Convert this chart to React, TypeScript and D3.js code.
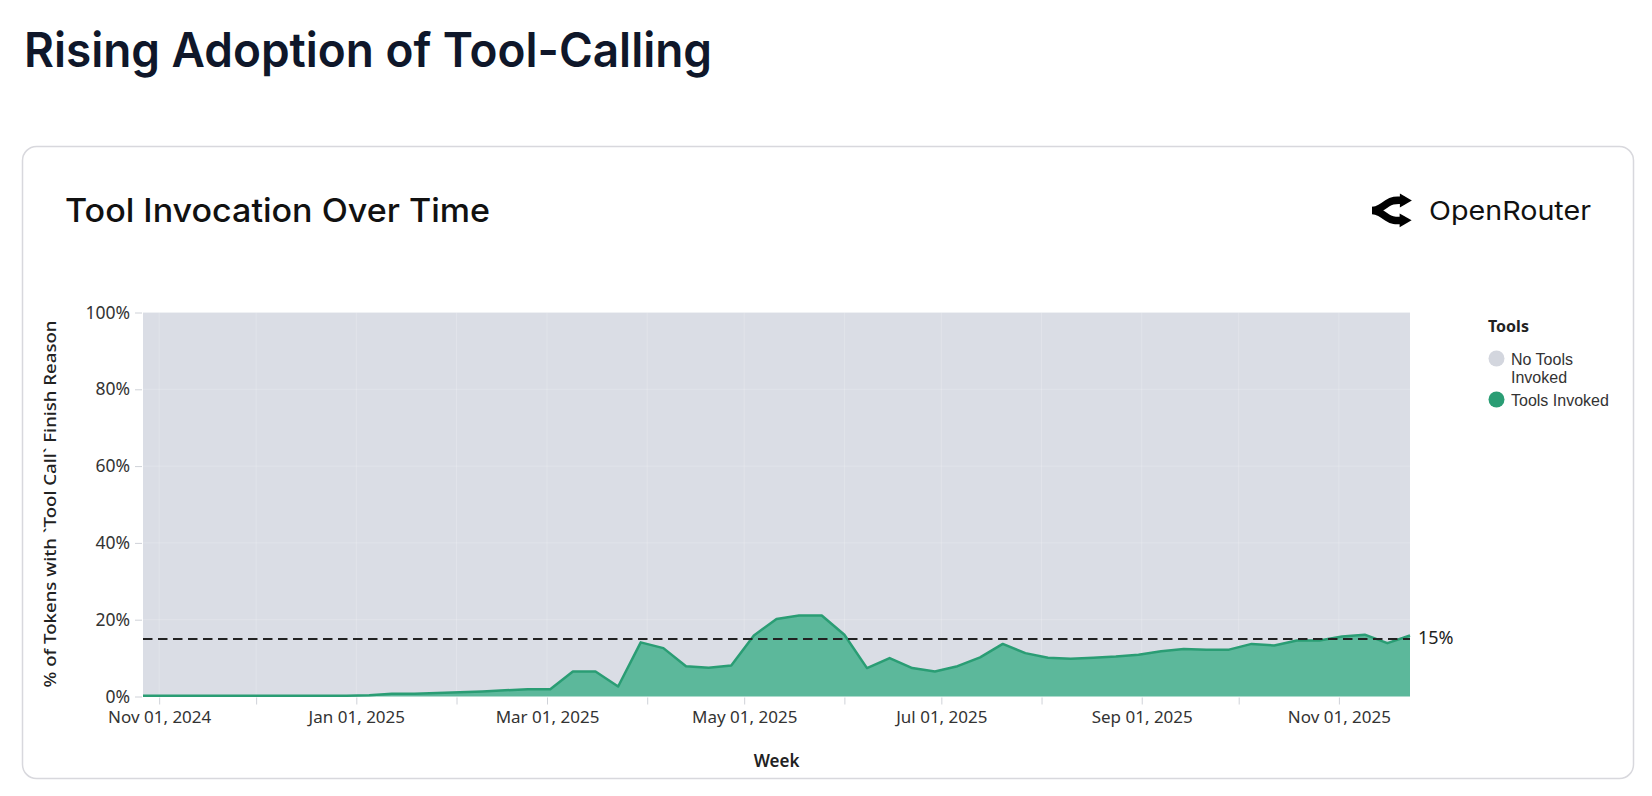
import React, { useEffect, useRef } from "react";
import * as d3 from "d3";

// weekly buckets (week starting Sunday), first week of the series
const firstWeek = "2024-10-27";
// % of tokens with `tool_call` finish reason, one value per week
const toolsInvoked = [
  0.2, 0.2, 0.2, 0.2, 0.2, 0.2, 0.2, 0.2, 0.2, 0.2,
  0.3, 0.7, 0.7, 0.9, 1.1, 1.3, 1.6, 1.9, 1.9, 6.5,
  6.5, 2.6, 14.1, 12.6, 7.9, 7.5, 8.1, 15.9, 20.2, 21.1,
  21.1, 16.1, 7.4, 10.0, 7.4, 6.5, 7.9, 10.2, 13.7, 11.3,
  10.1, 9.8, 10.1, 10.4, 10.9, 11.8, 12.4, 12.2, 12.2, 13.7,
  13.3, 14.6, 14.6, 15.6, 16.1, 13.9, 15.9,
];
const referenceLine = 15;
const yTicks = [0, 20, 40, 60, 80, 100];
const legendItems = [
  { label: ["No Tools", "Invoked"], color: "#d3d6de" },
  { label: ["Tools Invoked"], color: "#2a9d74" },
];

const GRAY = "#dadde5";
const GREEN_FILL = "#5cb89b";
const GREEN_LINE = "#2a9d74";
const LABEL_FONT = "'Noto Sans', 'Open Sans', sans-serif";
const LEGEND_FONT = "'Liberation Sans', Arial, sans-serif";
const HEAD_FONT = "Inter, 'Noto Sans', sans-serif";

export default function App() {
  const ref = useRef<SVGSVGElement>(null);

  useEffect(() => {
    const svg = d3.select(ref.current);
    svg.selectAll("*").remove();

    const start = new Date(firstWeek + "T00:00:00Z");
    const data = toolsInvoked.map((v, i) => ({ date: d3.utcWeek.offset(start, i), value: v }));

    const plot = { left: 143, right: 1410, top: 312.5, bottom: 696.5 };

    const x = d3.scaleUtc()
      .domain([data[0].date, data[data.length - 1].date])
      .range([plot.left, plot.right]);
    const y = d3.scaleLinear().domain([0, 100]).range([plot.bottom, plot.top]);

    // page title
    svg.append("text")
      .attr("x", 24).attr("y", 67)
      .attr("font-family", HEAD_FONT).attr("font-size", 48).attr("font-weight", 600)
      .attr("fill", "#0f172a")
      .attr("textLength", 688).attr("lengthAdjust", "spacingAndGlyphs")
      .text("Rising Adoption of Tool-Calling");

    // card
    svg.append("rect")
      .attr("x", 22.5).attr("y", 146.5).attr("width", 1611).attr("height", 632)
      .attr("rx", 14).attr("fill", "#fff").attr("stroke", "#d8d8dd").attr("stroke-width", 1.5);

    svg.append("text")
      .attr("x", 65).attr("y", 222)
      .attr("font-family", HEAD_FONT).attr("font-size", 33).attr("font-weight", 500)
      .attr("fill", "#111")
      .attr("textLength", 425).attr("lengthAdjust", "spacingAndGlyphs")
      .text("Tool Invocation Over Time");

    // OpenRouter logo
    const logo = svg.append("g").attr("transform", "translate(1372,191) scale(0.078)");
    logo.append("path")
      .attr("d", "M3 248.945C18 248.945 76 236 106 219C136 202 136 202 198 158C276.497 102.293 332 120.945 423 120.945")
      .attr("fill", "none").attr("stroke", "#000").attr("stroke-width", 95);
    logo.append("path").attr("d", "M511 121.5L357.25 210.268L357.25 32.7324L511 121.5Z").attr("fill", "#000");
    logo.append("path")
      .attr("d", "M0 249C15 249 73 261.945 103 278.945C133 295.945 133 295.945 195 339.945C273.497 395.652 329 376.999 420 376.999")
      .attr("fill", "none").attr("stroke", "#000").attr("stroke-width", 95);
    logo.append("path").attr("d", "M508 376.445L354.25 287.678L354.25 464.213L508 376.445Z").attr("fill", "#000");
    svg.append("text")
      .attr("x", 1429).attr("y", 219.5)
      .attr("font-family", HEAD_FONT).attr("font-size", 26)
      .attr("fill", "#111")
      .attr("textLength", 162).attr("lengthAdjust", "spacingAndGlyphs")
      .text("OpenRouter");

    // "no tools" area fills the rest up to 100%
    svg.append("path")
      .datum(data)
      .attr("d", d3.area<any>().x(d => x(d.date)).y0(d => y(d.value)).y1(y(100)))
      .attr("fill", GRAY);

    // faint grid
    const months = d3.utcMonth.range(d3.utcMonth.ceil(x.domain()[0]), x.domain()[1]);
    svg.append("g").selectAll("line").data(months).join("line")
      .attr("x1", d => x(d)).attr("x2", d => x(d))
      .attr("y1", plot.top).attr("y2", plot.bottom)
      .attr("stroke", "#fff").attr("stroke-opacity", 0.2);
    svg.append("g").selectAll("line").data(yTicks).join("line")
      .attr("x1", plot.left).attr("x2", plot.right)
      .attr("y1", d => y(d)).attr("y2", d => y(d))
      .attr("stroke", "#fff").attr("stroke-opacity", 0.2);

    // tools invoked area + line
    svg.append("path")
      .datum(data)
      .attr("d", d3.area<any>().x(d => x(d.date)).y0(y(0)).y1(d => y(d.value)))
      .attr("fill", GREEN_FILL);
    svg.append("path")
      .datum(data)
      .attr("d", d3.line<any>().x(d => x(d.date)).y(d => y(d.value)))
      .attr("fill", "none").attr("stroke", GREEN_LINE).attr("stroke-width", 2.5)
      .attr("stroke-linejoin", "round");

    // 15% reference line
    svg.append("line")
      .attr("x1", plot.left).attr("x2", plot.right)
      .attr("y1", y(referenceLine)).attr("y2", y(referenceLine))
      .attr("stroke", "#222").attr("stroke-width", 2).attr("stroke-dasharray", "9.5 5.5");
    svg.append("text")
      .attr("x", 1418).attr("y", y(referenceLine) + 5.5)
      .attr("font-family", LABEL_FONT).attr("font-size", 18).attr("fill", "#222")
      .text(`${referenceLine}%`);

    // y axis
    const yAxis = svg.append("g")
      .attr("transform", `translate(${plot.left - 1},0)`)
      .call(d3.axisLeft(y).tickValues(yTicks).tickSize(7).tickPadding(5).tickFormat(d => `${d}%`));
    yAxis.select(".domain").remove();
    yAxis.selectAll("line").attr("stroke", "#cfd2d8");
    yAxis.selectAll("text")
      .attr("font-family", LABEL_FONT).attr("font-size", 17.5).attr("fill", "#333");

    svg.append("text")
      .attr("transform", "translate(56,504) rotate(-90)")
      .attr("text-anchor", "middle")
      .attr("font-family", LABEL_FONT).attr("font-size", 16).attr("font-weight", 500)
      .attr("fill", "#222")
      .attr("textLength", 367).attr("lengthAdjust", "spacingAndGlyphs")
      .text("% of Tokens with `Tool Call` Finish Reason");

    // x axis: tick every month, label every other month
    const xAxis = svg.append("g")
      .attr("transform", `translate(0,${plot.bottom + 1})`)
      .call(d3.axisBottom(x).tickValues(months).tickSize(7).tickPadding(6)
        .tickFormat((d: any) => (d.getUTCMonth() % 2 === 0 ? d3.utcFormat("%b %d, %Y")(d) : "")));
    xAxis.select(".domain").remove();
    xAxis.selectAll("line").attr("stroke", "#cfd2d8");
    xAxis.selectAll("text")
      .attr("font-family", LABEL_FONT).attr("font-size", 17).attr("fill", "#333");

    svg.append("text")
      .attr("x", (plot.left + plot.right) / 2).attr("y", 767)
      .attr("text-anchor", "middle")
      .attr("font-family", LABEL_FONT).attr("font-size", 17).attr("font-weight", 600)
      .attr("fill", "#222")
      .text("Week");

    // legend
    const legend = svg.append("g");
    legend.append("text")
      .attr("x", 1488).attr("y", 331.5)
      .attr("font-family", LABEL_FONT).attr("font-size", 16).attr("font-weight", 700)
      .attr("fill", "#222").text("Tools");
    const rows = [358.5, 399.5];
    legendItems.forEach((item, i) => {
      legend.append("circle")
        .attr("cx", 1496.5).attr("cy", rows[i]).attr("r", 8)
        .attr("fill", item.color);
      const label = legend.append("text")
        .attr("x", 1511).attr("y", rows[i] + 6)
        .attr("font-family", LEGEND_FONT).attr("font-size", 16).attr("fill", "#333");
      item.label.forEach((line, j) => {
        label.append("tspan")
          .attr("x", 1511).attr("dy", j === 0 ? 0 : 18)
          .text(line);
      });
    });
  }, []);

  return (
    <svg
      ref={ref}
      width={1652}
      height={796}
      style={{ position: "absolute", left: 0, top: 0, background: "#fff" }}
    />
  );
}
